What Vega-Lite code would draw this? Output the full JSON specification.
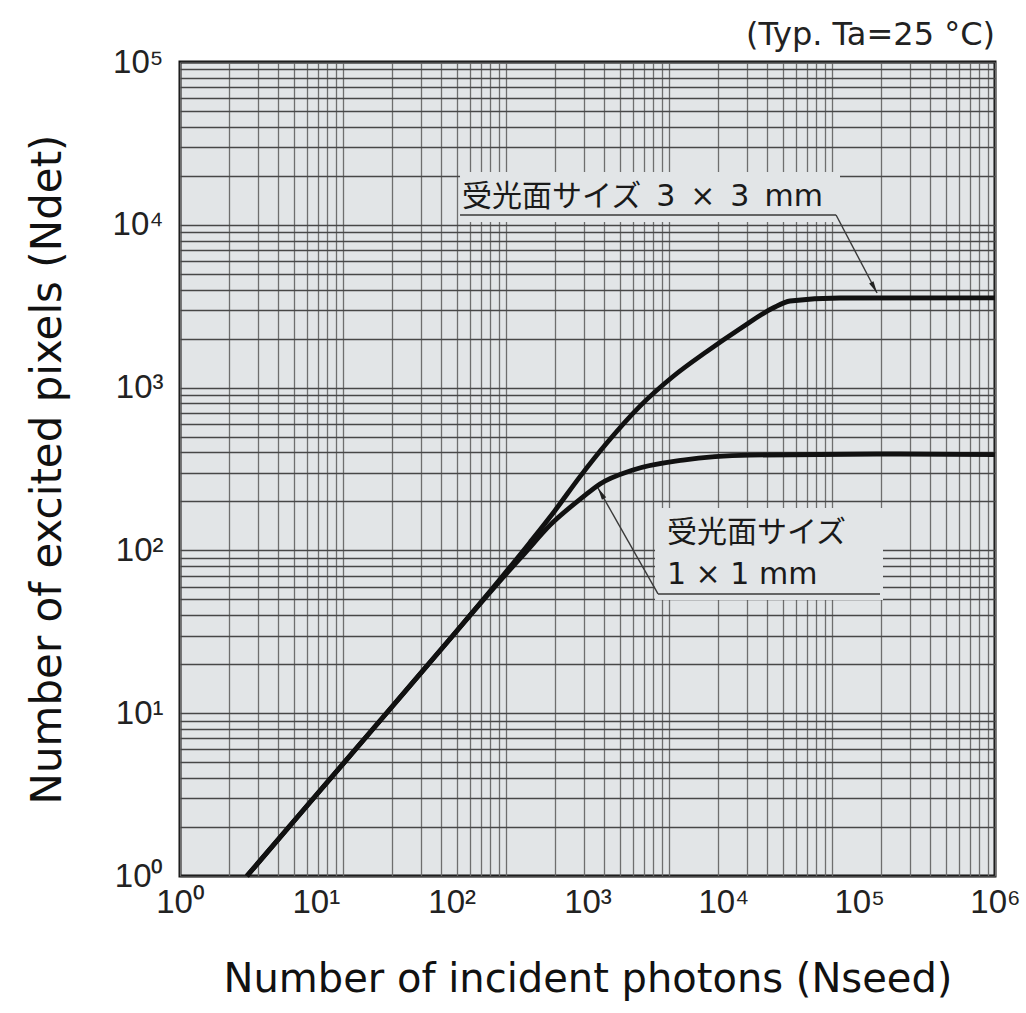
{
  "$schema": "https://vega.github.io/schema/vega-lite/v6.json",
  "width": 815,
  "height": 814,
  "autosize": "none",
  "padding": {"left": 180, "top": 62, "right": 31, "bottom": 137},
  "background": "white",
  "config": {"view": {"fill": "#e2e5e7", "stroke": "#111111", "strokeWidth": 3}},
  "title": {"text": "(Typ. Ta=25 °C)", "anchor": "end", "frame": "group", "font": "DejaVu Sans", "fontSize": 32, "fontWeight": "normal", "color": "#222222", "offset": -6},
  "datasets": {
    "curves": [
      {"series": "3x3", "x": 3.11, "y": 1},
      {"series": "3x3", "x": 10, "y": 3.12},
      {"series": "3x3", "x": 30, "y": 9.08},
      {"series": "3x3", "x": 100, "y": 29.4},
      {"series": "3x3", "x": 200, "y": 58.5},
      {"series": "3x3", "x": 377, "y": 112},
      {"series": "3x3", "x": 577, "y": 176},
      {"series": "3x3", "x": 881, "y": 284},
      {"series": "3x3", "x": 1392, "y": 458},
      {"series": "3x3", "x": 2435, "y": 770},
      {"series": "3x3", "x": 4261, "y": 1170},
      {"series": "3x3", "x": 7584, "y": 1670},
      {"series": "3x3", "x": 13270, "y": 2300},
      {"series": "3x3", "x": 23210, "y": 3083},
      {"series": "3x3", "x": 30970, "y": 3404},
      {"series": "3x3", "x": 72270, "y": 3550},
      {"series": "3x3", "x": 1000000, "y": 3560},
      {"series": "1x1", "x": 3.11, "y": 1},
      {"series": "1x1", "x": 10, "y": 3.12},
      {"series": "1x1", "x": 30, "y": 9.08},
      {"series": "1x1", "x": 100, "y": 29.4},
      {"series": "1x1", "x": 200, "y": 57.6},
      {"series": "1x1", "x": 345, "y": 96},
      {"series": "1x1", "x": 530, "y": 143},
      {"series": "1x1", "x": 927, "y": 213},
      {"series": "1x1", "x": 1236, "y": 256},
      {"series": "1x1", "x": 2163, "y": 312},
      {"series": "1x1", "x": 5050, "y": 359},
      {"series": "1x1", "x": 15710, "y": 385},
      {"series": "1x1", "x": 200000, "y": 391},
      {"series": "1x1", "x": 1000000, "y": 388}
    ],
    "boxes": [
      {"name": "3x3", "x": 115.2, "x2": 72270, "y": 10400, "y2": 21100},
      {"name": "1x1", "x": 3141, "x2": 149800, "y": 49.6, "y2": 182}
    ],
    "leaders": [
      {"name": "3x3 underline", "x": 115.2, "x2": 67600, "y": 11490, "y2": 11490},
      {"name": "3x3 leader", "x": 67600, "x2": 135400, "y": 11490, "y2": 3811},
      {"name": "1x1 underline", "x": 3304, "x2": 142400, "y": 54.0, "y2": 54.0},
      {"name": "1x1 leader", "x": 3304, "x2": 1195, "y": 54.0, "y2": 241.7}
    ],
    "arrows": [
      {"name": "3x3", "x": 129000, "y": 4108},
      {"name": "1x1", "x": 1257, "y": 224.5}
    ],
    "labels": [
      {"label": "受光面サイズ\u20023\u2002×\u20023\u2002mm", "x": 119.2, "y": 14820},
      {"label": "受光面サイズ", "x": 3848, "y": 128},
      {"label": "1 × 1 mm", "x": 3848, "y": 70.6}
    ]
  },
  "layer": [
    {
      "data": {"values": [{}]},
      "mark": {"type": "rule", "opacity": 0},
      "encoding": {
        "x": {
          "datum": 1,
          "type": "quantitative",
          "scale": {"type": "log", "domain": [1, 100000]},
          "axis": {
            "orient": "bottom",
            "values": [1,2,3,4,5,6,7,8,9,10,20,30,40,50,60,70,80,90,100,200,300,400,500,600,700,800,900,1000,2000,3000,4000,5000,6000,7000,8000,9000,10000,20000,30000,40000,50000,60000,70000,80000,90000,100000],
            "grid": true,
            "gridColor": "#6e6e6e",
            "gridWidth": 1.3,
            "gridOpacity": 1,
            "labels": false,
            "ticks": false,
            "domain": false,
            "title": null
          }
        }
      }
    },
    {
      "layer": [
        {
          "data": {"name": "boxes"},
          "mark": {"type": "rect", "fill": "#e2e5e7"},
          "encoding": {
            "x": {"field": "x", "type": "quantitative", "scale": {"type": "log", "domain": [1, 1000000]}},
            "x2": {"field": "x2"},
            "y": {"field": "y", "type": "quantitative", "scale": {"type": "log", "domain": [1, 100000]}},
            "y2": {"field": "y2"}
          }
        },
        {
          "data": {"name": "leaders"},
          "mark": {"type": "rule", "color": "#3a3a3a", "strokeWidth": 1.4},
          "encoding": {
            "x": {"field": "x", "type": "quantitative"},
            "x2": {"field": "x2"},
            "y": {"field": "y", "type": "quantitative"},
            "y2": {"field": "y2"}
          }
        },
        {
          "data": {"name": "curves"},
          "mark": {"type": "line", "color": "#111111", "strokeWidth": 4.8, "interpolate": "monotone"},
          "encoding": {
            "x": {
              "field": "x",
              "type": "quantitative",
              "scale": {"type": "log", "domain": [1, 1000000]},
              "axis": {
                "orient": "bottom",
                "values": [1, 10, 100, 1000, 10000, 100000, 1000000],
                "labelExpr": "'10' + ['⁰','¹','²','³','⁴','⁵','⁶'][round(log(datum.value)/LN10)]",
                "grid": false,
                "ticks": false,
                "domain": false,
                "labelFlush": false,
                "labelOverlap": false,
                "labelFont": "Liberation Sans",
                "labelFontSize": 33,
                "labelColor": "#222222",
                "labelPadding": 10,
                "title": "Number of incident photons (Nseed)",
                "titleFont": "DejaVu Sans",
                "titleFontSize": 40,
                "titleFontWeight": "normal",
                "titleColor": "#111111",
                "titlePadding": 40
              }
            },
            "y": {
              "field": "y",
              "type": "quantitative",
              "scale": {"type": "log", "domain": [1, 100000]},
              "axis": {
                "orient": "left",
                "values": [1,2,3,4,5,6,7,8,9,10,20,30,40,50,60,70,80,90,100,200,300,400,500,600,700,800,900,1000,2000,3000,4000,5000,6000,7000,8000,9000,10000,20000,30000,40000,50000,60000,70000,80000,90000,100000],
                "labelExpr": "abs(log(datum.value)/LN10 - round(log(datum.value)/LN10)) < 0.001 ? '10' + ['⁰','¹','²','³','⁴','⁵','⁶'][round(log(datum.value)/LN10)] : ''",
                "grid": true,
                "gridColor": "#474747",
                "gridWidth": 1.3,
                "gridOpacity": 1,
                "ticks": false,
                "domain": false,
                "labelOverlap": false,
                "labelFont": "Liberation Sans",
                "labelFontSize": 33,
                "labelColor": "#222222",
                "labelPadding": 17,
                "title": "Number of excited pixels (Ndet)",
                "titleFont": "DejaVu Sans",
                "titleFontSize": 42,
                "titleFontWeight": "normal",
                "titleColor": "#111111",
                "titlePadding": 43
              }
            },
            "detail": {"field": "series"}
          }
        },
        {
          "data": {"name": "arrows"},
          "transform": [{"filter": "datum.name === '3x3'"}],
          "mark": {"type": "point", "shape": "M0,-1L0.4,1L-0.4,1Z", "size": 150, "filled": true, "color": "#222222", "opacity": 1, "angle": 152},
          "encoding": {
            "x": {"field": "x", "type": "quantitative"},
            "y": {"field": "y", "type": "quantitative"}
          }
        },
        {
          "data": {"name": "arrows"},
          "transform": [{"filter": "datum.name === '1x1'"}],
          "mark": {"type": "point", "shape": "M0,-1L0.4,1L-0.4,1Z", "size": 150, "filled": true, "color": "#222222", "opacity": 1, "angle": 330},
          "encoding": {
            "x": {"field": "x", "type": "quantitative"},
            "y": {"field": "y", "type": "quantitative"}
          }
        },
        {
          "data": {"name": "labels"},
          "mark": {"type": "text", "align": "left", "baseline": "middle", "font": "DejaVu Sans, Noto Sans CJK JP", "fontSize": 30, "color": "#1a1a1a"},
          "encoding": {
            "x": {"field": "x", "type": "quantitative"},
            "y": {"field": "y", "type": "quantitative"},
            "text": {"field": "label"}
          }
        }
      ]
    }
  ],
  "resolve": {"scale": {"x": "independent"}, "axis": {"x": "independent"}}
}
